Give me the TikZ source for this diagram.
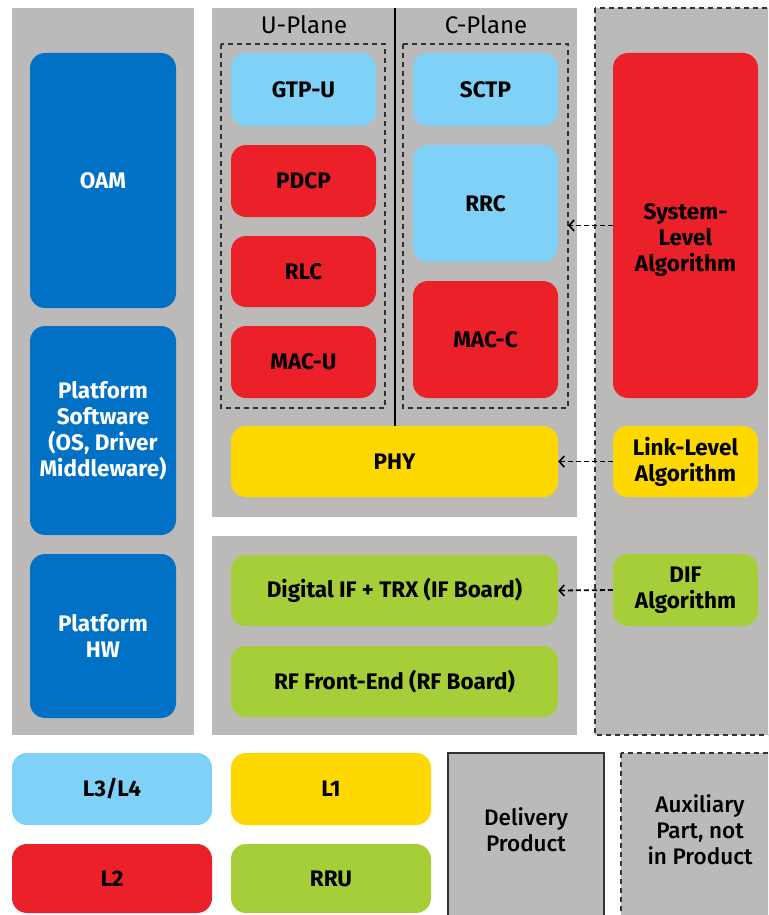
\documentclass[tikz,border=0pt]{standalone}
\usepackage{fontspec}
\setmainfont{Fira Sans}
\newfontfamily\medfont{Fira Sans}[UprightFont={* Medium}]
\usetikzlibrary{arrows.meta}
\definecolor{pgray}{HTML}{BCBAB8}
\definecolor{iblue}{HTML}{0071C5}
\definecolor{lblue}{HTML}{7FD1F7}
\definecolor{ired}{HTML}{EC2029}
\definecolor{iyellow}{HTML}{FFD800}
\definecolor{igreen}{HTML}{A6CE39}
\definecolor{dline}{HTML}{333333}
\tikzset{
  box/.style={rounded corners=15pt, draw=none, align=center, inner sep=0pt,
    font=\fontsize{22.5}{26}\selectfont\bfseries},
  panel/.style={fill=pgray, draw=none},
  dbox/.style={draw=dline, line width=1.5pt, dash pattern=on 5pt off 4pt},
  flow/.style={draw=black, line width=1.8pt, dash pattern=on 5pt off 3pt, -{Straight Barb[length=5pt,width=11pt,line width=1.6pt]}},
  hdr/.style={font=\fontsize{24}{26}\selectfont, inner sep=0pt},
  leg/.style={align=center, inner sep=0pt, font=\fontsize{22.5}{26}\selectfont\medfont}
}
\begin{document}
\begin{tikzpicture}[x=1pt,y=-1pt]
\useasboundingbox (0,0) rectangle (768,915);
\clip (0,0) rectangle (768,915);
% panels
\fill[panel] (12,8) rectangle (194,735);
\fill[panel] (212,8) rectangle (577,517);
\fill[panel] (212,536) rectangle (577,735);
\filldraw[panel, dbox] (595,8) rectangle (800,735);
% inner dashed
\draw[dbox] (221,44) rectangle (385,408);
\draw[dbox] (403,44) rectangle (568,408);
\draw[line width=1.5pt] (395,8) -- (395,426);
\node[hdr] (uplane) at (304,25) {U-Plane};
\node[hdr] (cplane) at (486,25) {C-Plane};
% left column
\node[box, fill=iblue, text=white, minimum width=146pt, minimum height=255pt] (oam) at (103,180.5) {OAM};
\node[box, fill=iblue, text=white, minimum width=146pt, minimum height=209pt] (psw) at (103,430.5) {Platform\\Software\\(OS, Driver\\Middleware)};
\node[box, fill=iblue, text=white, minimum width=146pt, minimum height=164pt] (phw) at (103,636) {Platform\\HW};
% U-plane
\node[box, fill=lblue, minimum width=145pt, minimum height=73pt] (gtpu) at (303.5,89.5) {GTP-U};
\node[box, fill=ired, minimum width=145pt, minimum height=72pt] (pdcp) at (303.5,181) {PDCP};
\node[box, fill=ired, minimum width=145pt, minimum height=71pt] (rlc) at (303.5,271.5) {RLC};
\node[box, fill=ired, minimum width=145pt, minimum height=72pt] (macu) at (303.5,362) {MAC-U};
% C-plane
\node[box, fill=lblue, minimum width=145pt, minimum height=73pt] (sctp) at (485.5,89.5) {SCTP};
\node[box, fill=lblue, minimum width=145pt, minimum height=117pt] (rrc) at (485.5,203.5) {RRC};
\node[box, fill=ired, minimum width=145pt, minimum height=117pt] (macc) at (485.5,339.5) {MAC-C};
% PHY and RRU
\node[box, fill=iyellow, minimum width=327pt, minimum height=71pt] (phy) at (394.5,461.5) {PHY};
\node[box, fill=igreen, minimum width=327pt, minimum height=71pt] (difif) at (394.5,590.5) {Digital IF + TRX (IF Board)};
\node[box, fill=igreen, minimum width=327pt, minimum height=71pt] (rf) at (394.5,681.5) {RF Front-End (RF Board)};
% right
\node[box, fill=ired, minimum width=145pt, minimum height=345pt] (sysl) at (685.5,225.5) {\mbox{}\\[18pt]System-\\Level\\Algorithm};
\node[box, fill=iyellow, minimum width=145pt, minimum height=71pt] (linkl) at (685.5,461.5) {Link-Level\\Algorithm};
\node[box, fill=igreen, minimum width=145pt, minimum height=72pt] (difalg) at (685.5,590) {DIF\\Algorithm};
% arrows
\coordinate (rrcin) at (568,225.5);
\draw[flow] (sysl.west) -- (rrcin);
\draw[flow] (linkl.west) -- (phy.east);
\draw[flow] (difalg.west) -- (difif.east);
% legend
\node[box, fill=lblue, minimum width=200pt, minimum height=72pt] (l34) at (112,789) {L3/L4};
\node[box, fill=ired, minimum width=200pt, minimum height=69pt] (l2) at (112,878.5) {L2};
\node[box, fill=iyellow, minimum width=200pt, minimum height=72pt] (l1) at (331,789) {L1};
\node[box, fill=igreen, minimum width=200pt, minimum height=69pt] (rru) at (331,878.5) {RRU};
\filldraw[fill=pgray, draw=dline, line width=1.5pt] (448,753) rectangle (604,940);
\node[leg] (deliv) at (526,830) {Delivery\\Product};
\filldraw[panel, dbox] (621,753) rectangle (800,940);
\node[leg] (aux) at (700,830) {Auxiliary\\Part, not\\in Product};
\end{tikzpicture}
\end{document}
